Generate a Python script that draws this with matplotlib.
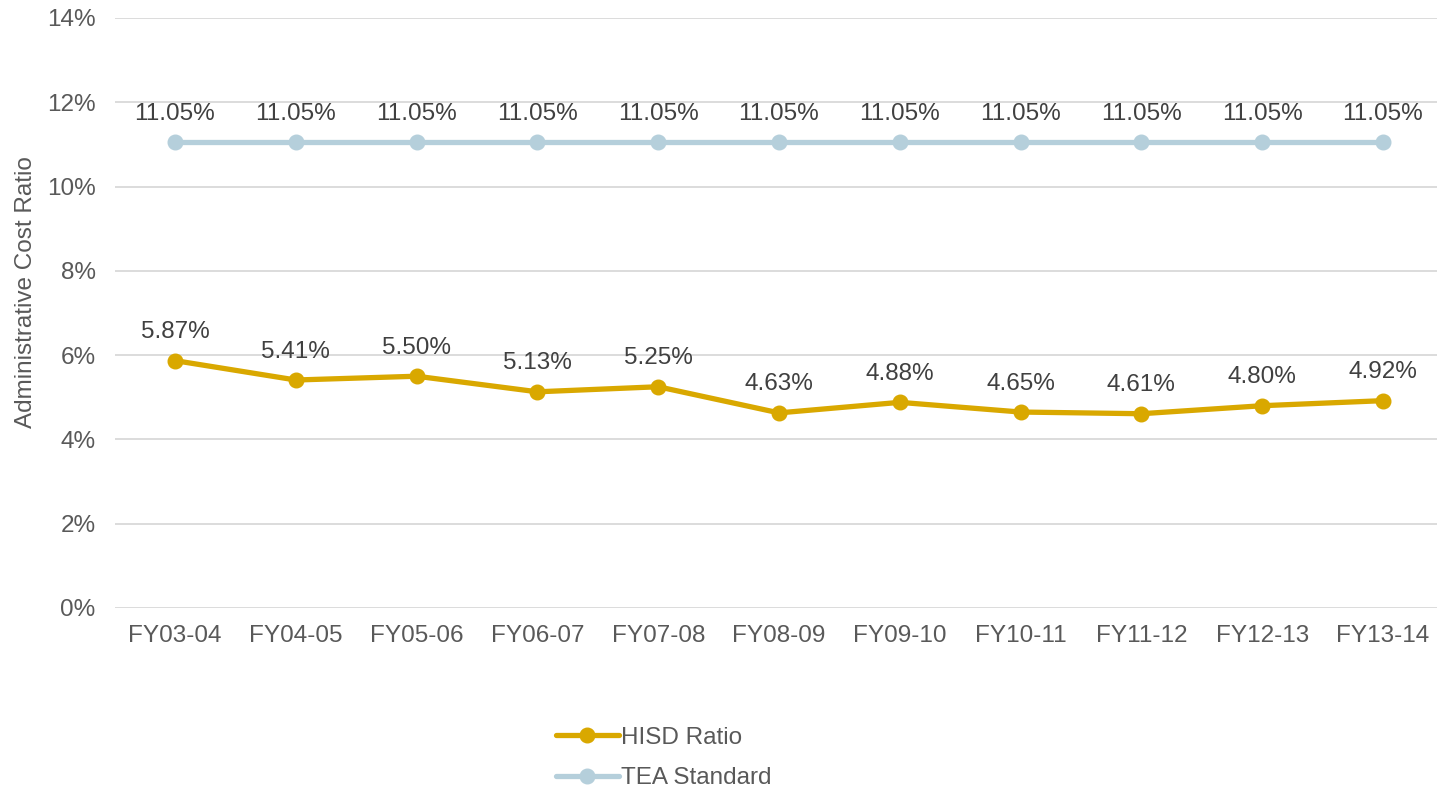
import numpy as np
import matplotlib
matplotlib.use("Agg")
import matplotlib.pyplot as plt
from matplotlib.ticker import FuncFormatter

plt.rcParams.update({"font.family": ["Liberation Sans", "DejaVu Sans"]})

years = ["FY03-04", "FY04-05", "FY05-06", "FY06-07", "FY07-08", "FY08-09",
         "FY09-10", "FY10-11", "FY11-12", "FY12-13", "FY13-14"]
hisd = [5.87, 5.41, 5.50, 5.13, 5.25, 4.63, 4.88, 4.65, 4.61, 4.80, 4.92]
tea = [11.05] * 11

INK = "#595959"
GOLD = "#D9A800"
BLUE = "#B5CFDB"
GRID = "#D9D9D9"
FS = 17.5

fig = plt.figure(figsize=(14.37, 7.88), dpi=100)
ax = fig.add_axes([115 / 1437, 1 - 608 / 788, 1 - 115 / 1437, 590 / 788])

x = np.arange(len(years))
ax.plot(x, hisd, color=GOLD, lw=3.8, marker="o", ms=10.5, label="HISD Ratio",
        solid_capstyle="round")
ax.plot(x, tea, color=BLUE, lw=3.8, marker="o", ms=10.5, label="TEA Standard",
        solid_capstyle="round")

# data labels above each point
for series in (hisd, tea):
    for xi, v in zip(x, series):
        ax.annotate(f"{v:.2f}%", (xi, v), xytext=(0, 20.5),
                    textcoords="offset points", ha="center", va="center",
                    fontsize=FS, color="#404040")

ax.set_xlim(-60 / 120.8, (1437 - 175) / 120.8)
ax.set_ylim(0, 14)
ax.set_yticks(np.arange(0, 15, 2))
ax.yaxis.set_major_formatter(FuncFormatter(lambda v, p: f"{v:.0f}%"))
ax.set_xticks(x)
ax.set_xticklabels(years)
ax.tick_params(axis="both", length=0, labelsize=FS, labelcolor=INK)
ax.tick_params(axis="y", pad=14)
ax.tick_params(axis="x", pad=12)
ax.grid(axis="y", color=GRID, lw=1.3)
ax.set_axisbelow(True)
for s in ax.spines.values():
    s.set_visible(False)

ax.set_ylabel("Administrative Cost Ratio", fontsize=FS, color=INK)
ax.yaxis.set_label_coords(-78 / 1322, (608 - 292) / 590)

fig.legend(loc="center", bbox_to_anchor=(0.462, 1 - 758 / 788), frameon=False,
           fontsize=FS, labelcolor=INK, handlelength=2.6, handletextpad=0.1,
           labelspacing=0.78)

fig.savefig("out.png", dpi=100)
